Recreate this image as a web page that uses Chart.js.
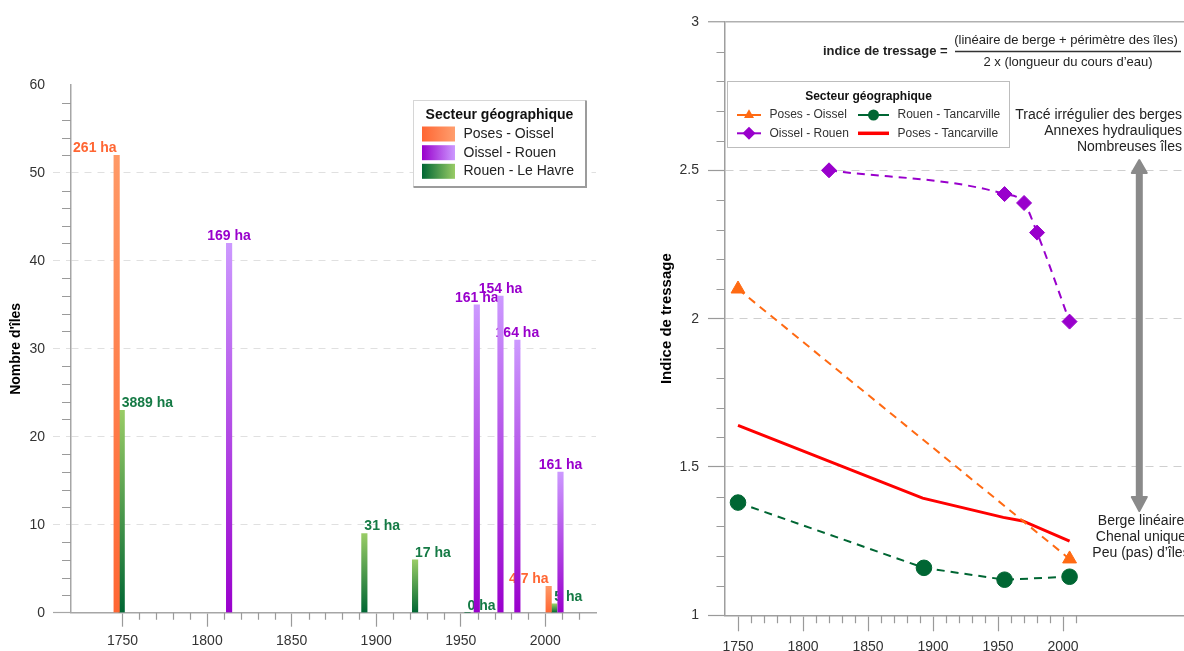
<!DOCTYPE html>
<html lang="fr">
<head>
<meta charset="utf-8">
<title>Îles et indice de tressage de la Seine</title>
<script src="https://cdn.jsdelivr.net/npm/chart.js@4.4.1/dist/chart.umd.min.js"></script>
<style>
  html, body { margin: 0; padding: 0; background: #fff; }
  #page { position: relative; width: 1184px; height: 651px; overflow: hidden; }
  #ilesBox { position: absolute; left: 0; top: 0; width: 600px; height: 651px; }
  #tressageBox { position: absolute; left: 600px; top: 0; width: 584px; height: 651px; }
</style>
</head>
<body>
<div id="page">
  <div id="ilesBox"><canvas id="ilesChart" width="600" height="651"></canvas></div>
  <div id="tressageBox"><canvas id="tressageChart" width="584" height="651"></canvas></div>
</div>
<script>
// Nombre d'îles par secteur (années, décalées comme les barres)
const posesYears = [1746.5, 2002];
const posesIles = [52, 3];
const posesSurf = ['261 ha', '4,7 ha'];

const oisselYears = [1813, 1959.5, 1973.5, 1983.5, 2009];
const oisselIles = [42, 35, 36, 31, 16];
const oisselSurf = ['169 ha', '161 ha', '154 ha', '164 ha', '161 ha'];

const havreYears = [1749.5, 1893, 1923, 1954, 2005.3];
const havreIles = [23, 9, 6, 0, 1];
const havreSurf = ['3889 ha', '31 ha', '17 ha', '0 ha', '5 ha'];

const yearTicks = [1750, 1800, 1850, 1900, 1950, 2000];

// Indice de tressage
const poYears = [1750, 2005];
const poIndice = [2.1, 1.19];
const orYears = [1820, 1955, 1970, 1980, 2005];
const orIndice = [2.5, 2.42, 2.39, 2.29, 1.99];
const rtYears = [1750, 1893, 1955, 2005];
const rtIndice = [1.38, 1.16, 1.12, 1.13];
const ptYears = [1750, 1892, 1954, 1969, 2005];
const ptIndice = [1.64, 1.395, 1.33, 1.318, 1.25];

const FONT = '"Liberation Sans", Arial, sans-serif';
Chart.defaults.font.family = FONT;
Chart.defaults.color = '#333';

function pts(xs, ys) {
    return xs.map((x, i) => ({ x: x, y: ys[i] }));
}

function barGradient(dark, light) {
    return function (ctx) {
        const chart = ctx.chart;
        if (!chart.chartArea || ctx.type !== 'data') return dark;
        const y = chart.scales.y;
        const top = y.getPixelForValue(ctx.parsed.y);
        const base = y.getPixelForValue(0);
        if (base - top < 1) return dark;
        const g = chart.ctx.createLinearGradient(0, base, 0, top);
        g.addColorStop(0, dark);
        g.addColorStop(1, light);
        return g;
    };
}

function minorValues(from, to, step, skip) {
    const out = [];
    for (let k = from; k <= to; k += step) {
        if (k % skip !== 0) out.push(k);
    }
    return out;
}

// petites graduations intermédiaires
const minorTicks = {
    id: 'minorTicks',
    afterDraw(chart, args, opts) {
        const c = chart.ctx;
        const xs = chart.scales.x, ys = chart.scales.y;
        c.save();
        c.strokeStyle = opts.color;
        c.lineWidth = 1.2;
        c.beginPath();
        opts.xValues.forEach(v => {
            const px = Math.round(xs.getPixelForValue(v)) + 0.5;
            c.moveTo(px, xs.top);
            c.lineTo(px, xs.top + opts.xLen);
        });
        opts.yValues.forEach(v => {
            const py = Math.round(ys.getPixelForValue(v / opts.yDiv)) + 0.5;
            c.moveTo(ys.right - opts.yLen, py);
            c.lineTo(ys.right, py);
        });
        c.stroke();
        c.restore();
    }
};

const labelStyles = [
    { texts: posesSurf, color: '#ff6633', align: 'right' },
    { texts: oisselSurf, color: '#9900cc', align: 'center' },
    { texts: havreSurf, color: '#157a45', align: 'left' }
];

// surfaces écrites au-dessus des barres (sous les barres voisines)
const surfaceLabels = {
    id: 'surfaceLabels',
    beforeDatasetsDraw(chart) {
        const c = chart.ctx;
        c.save();
        c.font = 'bold 14px ' + FONT;
        c.textBaseline = 'middle';
        chart.data.datasets.forEach((ds, i) => {
            const st = labelStyles[i];
            c.fillStyle = st.color;
            c.textAlign = st.align;
            chart.getDatasetMeta(i).data.forEach((bar, j) => {
                c.fillText(st.texts[j], bar.x, bar.y - 7);
            });
        });
        c.restore();
    }
};

const ilesLegend = {
    id: 'ilesLegend',
    afterDraw(chart) {
        const c = chart.ctx;
        const x = 413.5, y = 100.5, w = 172, h = 86;
        c.save();
        c.fillStyle = '#fff';
        c.fillRect(x, y, w, h);
        c.strokeStyle = '#d6d6d6';
        c.lineWidth = 1;
        c.strokeRect(x, y, w, h);
        c.strokeStyle = '#9c9c9c';
        c.lineWidth = 2;
        c.beginPath();
        c.moveTo(x + w + 0.5, y);
        c.lineTo(x + w + 0.5, y + h + 0.5);
        c.lineTo(x, y + h + 0.5);
        c.stroke();

        c.fillStyle = '#111';
        c.font = 'bold 14px ' + FONT;
        c.textAlign = 'center';
        c.textBaseline = 'middle';
        c.fillText('Secteur géographique', x + w / 2, 115.5);

        const items = [
            ['Poses - Oissel', '#ff6633', '#ff9e6e', 134],
            ['Oissel - Rouen', '#9900cc', '#cc99ff', 152.7],
            ['Rouen - Le Havre', '#006633', '#99cc66', 171.3]
        ];
        c.font = '14px ' + FONT;
        c.textAlign = 'left';
        items.forEach(it => {
            const g = c.createLinearGradient(422, 0, 455, 0);
            g.addColorStop(0, it[1]);
            g.addColorStop(1, it[2]);
            c.fillStyle = g;
            c.fillRect(422, it[3] - 7.5, 33, 15);
            c.fillStyle = '#222';
            c.fillText(it[0], 463.5, it[3]);
        });
        c.restore();
    }
};

new Chart(document.getElementById('ilesChart'), {
    type: 'bar',
    data: {
        datasets: [
            { label: 'Poses - Oissel', data: pts(posesYears, posesIles), backgroundColor: barGradient('#ff6633', '#ff9966') },
            { label: 'Oissel - Rouen', data: pts(oisselYears, oisselIles), backgroundColor: barGradient('#9900cc', '#cc99ff') },
            { label: 'Rouen - Le Havre', data: pts(havreYears, havreIles), backgroundColor: barGradient('#006633', '#99cc66') }
        ]
    },
    options: {
        responsive: false,
        animation: false,
        events: [],
        layout: { autoPadding: false, padding: { top: 85, right: 4, left: 0, bottom: 0 } },
        datasets: { bar: { grouped: false, barThickness: 5.5 } },
        plugins: {
            legend: { display: false },
            tooltip: { enabled: false },
            minorTicks: {
                color: '#9a9a9a',
                xValues: minorValues(1760, 2020, 10, 50), xLen: 7,
                yValues: minorValues(2, 58, 2, 10), yLen: 9, yDiv: 1
            }
        },
        scales: {
            x: {
                type: 'linear',
                min: 1719.5,
                max: 2030,
                offset: false,
                afterBuildTicks: s => { s.ticks = yearTicks.map(v => ({ value: v })); },
                afterFit: s => { s.height = 38.3; },
                grid: { offset: false, drawOnChartArea: false, tickLength: 14, tickColor: '#9a9a9a', tickWidth: 1.2 },
                border: { color: '#a6a6a6', width: 1.5 },
                ticks: { padding: 6, color: '#333', font: { size: 14 }, callback: v => String(v) }
            },
            y: {
                min: 0,
                max: 60,
                afterFit: s => { s.width = 71; },
                ticks: { stepSize: 10, padding: 8, color: '#333', font: { size: 14 }, callback: v => String(v) },
                grid: {
                    tickLength: 18,
                    lineWidth: 1,
                    tickWidth: 1.2,
                    color: c => (c.tick && c.tick.value > 0 && c.tick.value < 60) ? '#e0e0e0' : 'rgba(0,0,0,0)',
                    tickColor: c => c.tick.value === 0 ? '#a6a6a6' : (c.tick.value < 60 ? '#e0e0e0' : 'rgba(0,0,0,0)'),
                    tickBorderDash: c => c.tick.value === 0 ? [] : [7, 6]
                },
                border: { color: '#a6a6a6', width: 1.5, dash: [7, 6] },
                title: {
                    display: true,
                    text: "Nombre d'îles",
                    color: '#000',
                    font: { size: 14, weight: 'bold' },
                    padding: { top: 7.6, bottom: 0 }
                }
            }
        }
    },
    plugins: [surfaceLabels, minorTicks, ilesLegend]
});

function drawMarker(c, style, x, y, r, color) {
    c.fillStyle = color;
    c.beginPath();
    if (style === 'triangle') {
        c.moveTo(x, y - r);
        c.lineTo(x + r * 0.866, y + r / 2);
        c.lineTo(x - r * 0.866, y + r / 2);
    } else if (style === 'rectRot') {
        c.moveTo(x - r, y);
        c.lineTo(x, y - r);
        c.lineTo(x + r, y);
        c.lineTo(x, y + r);
    } else {
        c.arc(x, y, r, 0, Math.PI * 2);
    }
    c.closePath();
    c.fill();
}

// légende, formule, flèche et commentaires du graphique de droite
const tressageDecor = {
    id: 'tressageDecor',
    afterDraw(chart) {
        const c = chart.ctx;
        c.save();

        // formule
        c.fillStyle = '#222';
        c.textBaseline = 'middle';
        c.font = 'bold 13px ' + FONT;
        c.textAlign = 'left';
        c.fillText('indice de tressage =', 223, 51);
        c.font = '13px ' + FONT;
        c.textAlign = 'center';
        c.fillText('(linéaire de berge + périmètre des îles)', 466, 40.5);
        c.fillText('2 x (longueur du cours d\u2019eau)', 468, 62);
        c.strokeStyle = '#333';
        c.lineWidth = 1.5;
        c.beginPath();
        c.moveTo(355, 51.5);
        c.lineTo(581, 51.5);
        c.stroke();

        // légende
        const bx = 127.5, by = 81.5, bw = 282, bh = 66;
        c.fillStyle = '#fff';
        c.fillRect(bx, by, bw, bh);
        c.strokeStyle = '#bdbdbd';
        c.lineWidth = 1;
        c.strokeRect(bx, by, bw, bh);
        c.fillStyle = '#111';
        c.font = 'bold 12px ' + FONT;
        c.textAlign = 'center';
        c.fillText('Secteur géographique', bx + bw / 2, 97);

        const items = [
            ['Poses - Oissel', '#ff6a13', 'triangle', 137, 161, 115, 5.8, 2],
            ['Rouen - Tancarville', '#006633', 'circle', 258, 289, 115, 5.5, 2],
            ['Oissel - Rouen', '#9900cc', 'rectRot', 137, 161, 133.3, 6.5, 2],
            ['Poses - Tancarville', '#ff0000', null, 258, 289, 133.3, 0, 3.5]
        ];
        c.font = '12px ' + FONT;
        c.textAlign = 'left';
        items.forEach(it => {
            c.strokeStyle = it[1];
            c.lineWidth = it[7];
            c.beginPath();
            c.moveTo(it[3], it[5]);
            c.lineTo(it[4], it[5]);
            c.stroke();
            if (it[2]) drawMarker(c, it[2], (it[3] + it[4]) / 2, it[5], it[6], it[1]);
            c.fillStyle = '#333';
            c.fillText(it[0], it[4] + 8.5, it[5]);
        });

        // flèche
        const ax = 539.3;
        c.strokeStyle = '#8a8a8a';
        c.fillStyle = '#8a8a8a';
        c.lineWidth = 7;
        c.beginPath();
        c.moveTo(ax, 170);
        c.lineTo(ax, 500);
        c.stroke();
        c.lineWidth = 2;
        c.lineJoin = 'round';
        c.beginPath();
        c.moveTo(ax, 160);
        c.lineTo(ax + 7.5, 173);
        c.lineTo(ax - 7.5, 173);
        c.closePath();
        c.moveTo(ax, 511);
        c.lineTo(ax + 7.5, 497);
        c.lineTo(ax - 7.5, 497);
        c.closePath();
        c.fill();
        c.stroke();

        // commentaires
        c.fillStyle = '#222';
        c.font = '14px ' + FONT;
        c.textAlign = 'right';
        c.fillText('Tracé irrégulier des berges', 582, 115);
        c.fillText('Annexes hydrauliques', 582, 131);
        c.fillText('Nombreuses îles', 582, 147);
        c.textAlign = 'center';
        c.fillText('Berge linéaire', 541, 521.5);
        c.fillText('Chenal unique', 541, 537.5);
        c.fillText('Peu (pas) d\u2019îles', 541, 553);
        c.restore();
    }
};

new Chart(document.getElementById('tressageChart'), {
    type: 'line',
    data: {
        datasets: [
            {
                label: 'Poses - Oissel', data: pts(poYears, poIndice),
                borderColor: '#ff6a13', backgroundColor: '#ff6a13', borderWidth: 2, borderDash: [8, 6],
                pointStyle: 'triangle', pointRadius: 8, pointBorderWidth: 1, tension: 0
            },
            {
                label: 'Oissel - Rouen', data: pts(orYears, orIndice),
                borderColor: '#9900cc', backgroundColor: '#9900cc', borderWidth: 2, borderDash: [8, 6],
                pointStyle: 'rectRot', pointRadius: 7.5, pointBorderWidth: 1, cubicInterpolationMode: 'monotone'
            },
            {
                label: 'Rouen - Tancarville', data: pts(rtYears, rtIndice),
                borderColor: '#006633', backgroundColor: '#006633', borderWidth: 2, borderDash: [8, 6],
                pointStyle: 'circle', pointRadius: 7.8, pointBorderWidth: 1, tension: 0
            },
            {
                label: 'Poses - Tancarville', data: pts(ptYears, ptIndice),
                borderColor: '#ff0000', backgroundColor: '#ff0000', borderWidth: 3,
                pointRadius: 0, tension: 0
            }
        ]
    },
    options: {
        responsive: false,
        animation: false,
        events: [],
        layout: { autoPadding: false, padding: { top: 22, right: 0, left: 0, bottom: 0 } },
        plugins: {
            legend: { display: false },
            tooltip: { enabled: false },
            minorTicks: {
                color: '#9a9a9a',
                xValues: minorValues(1760, 2010, 10, 50), xLen: 8,
                yValues: minorValues(11, 29, 1, 5), yLen: 8.5, yDiv: 10
            }
        },
        scales: {
            x: {
                type: 'linear',
                min: 1740,
                max: 2093,
                afterBuildTicks: s => { s.ticks = yearTicks.map(v => ({ value: v })); },
                afterFit: s => { s.height = 35.7; },
                grid: { drawOnChartArea: false, tickLength: 16, tickColor: '#9a9a9a', tickWidth: 1.2 },
                border: { color: '#9e9e9e', width: 1.5 },
                ticks: { padding: 7, color: '#333', font: { size: 14 }, callback: v => String(v) }
            },
            y: {
                min: 1,
                max: 3,
                afterFit: s => { s.width = 125; },
                ticks: { stepSize: 0.5, padding: 9, color: '#333', font: { size: 14 }, callback: v => String(v) },
                grid: {
                    tickLength: 17,
                    tickWidth: 1.2,
                    tickColor: '#9a9a9a',
                    lineWidth: c => (c.tick && c.tick.value === 3) ? 1.5 : 1,
                    color: c => {
                        if (!c.tick || c.tick.value === 1) return 'rgba(0,0,0,0)';
                        return c.tick.value === 3 ? '#b0b0b0' : '#cfcfcf';
                    }
                },
                border: { color: '#9e9e9e', width: 1.5, dash: c => (c.tick && c.tick.value === 3) ? [] : [8, 6] },
                title: {
                    display: true,
                    text: 'Indice de tressage',
                    color: '#000',
                    font: { size: 15, weight: 'bold' },
                    padding: { top: 57.7, bottom: 0 }
                }
            }
        }
    },
    plugins: [minorTicks, tressageDecor]
});
</script>
</body>
</html>
